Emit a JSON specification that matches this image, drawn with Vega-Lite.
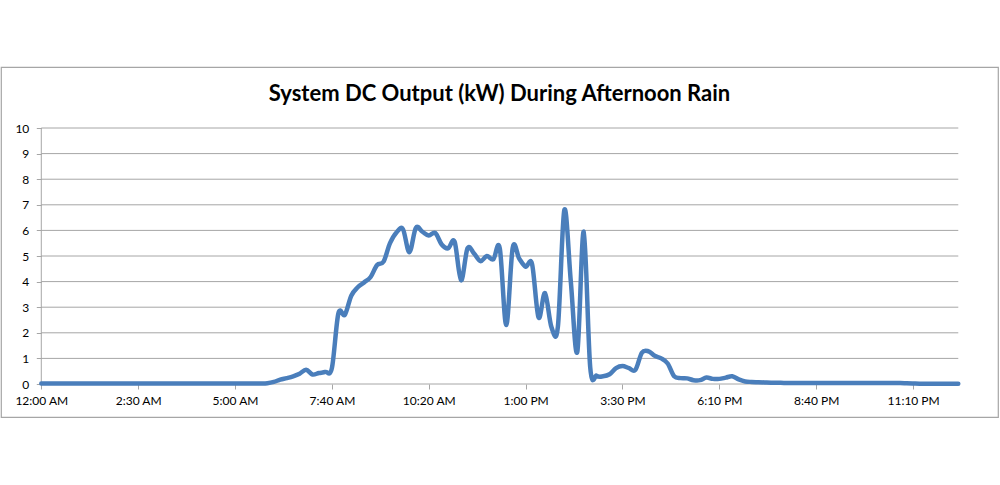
{
  "$schema": "https://vega.github.io/schema/vega-lite/v6.json",
  "width": 997,
  "height": 350,
  "autosize": {"type": "none"},
  "padding": {"left": 1, "top": 67, "right": 2, "bottom": 68},
  "background": "white",
  "config": {
    "font": "Lato",
    "view": {"stroke": "#a6a6a6", "strokeWidth": 1.2}
  },
  "title": {
    "text": "System DC Output (kW) During Afternoon Rain",
    "anchor": "middle",
    "offset": -39,
    "font": "Lato",
    "fontSize": 22,
    "fontWeight": "bold",
    "color": "#000000"
  },
  "datasets": {
    "output": [
      {"i": 0, "kw": 0.02}, {"i": 1, "kw": 0.02}, {"i": 2, "kw": 0.02}, {"i": 3, "kw": 0.02}, {"i": 4, "kw": 0.02},
      {"i": 5, "kw": 0.02}, {"i": 6, "kw": 0.02}, {"i": 7, "kw": 0.02}, {"i": 8, "kw": 0.02}, {"i": 9, "kw": 0.02},
      {"i": 10, "kw": 0.02}, {"i": 11, "kw": 0.02}, {"i": 12, "kw": 0.02}, {"i": 13, "kw": 0.02}, {"i": 14, "kw": 0.02},
      {"i": 15, "kw": 0.02}, {"i": 16, "kw": 0.02}, {"i": 17, "kw": 0.02}, {"i": 18, "kw": 0.02}, {"i": 19, "kw": 0.02},
      {"i": 20, "kw": 0.02}, {"i": 21, "kw": 0.02}, {"i": 22, "kw": 0.02}, {"i": 23, "kw": 0.02}, {"i": 24, "kw": 0.02},
      {"i": 25, "kw": 0.02}, {"i": 26, "kw": 0.02}, {"i": 27, "kw": 0.02}, {"i": 28, "kw": 0.02}, {"i": 29, "kw": 0.02},
      {"i": 30, "kw": 0.02}, {"i": 31, "kw": 0.02}, {"i": 32, "kw": 0.02}, {"i": 33, "kw": 0.02}, {"i": 34, "kw": 0.02},
      {"i": 35, "kw": 0.03}, {"i": 36, "kw": 0.08}, {"i": 37, "kw": 0.17}, {"i": 38, "kw": 0.23}, {"i": 39, "kw": 0.3},
      {"i": 40, "kw": 0.4}, {"i": 41, "kw": 0.56}, {"i": 42, "kw": 0.37}, {"i": 43, "kw": 0.43}, {"i": 44, "kw": 0.47},
      {"i": 45, "kw": 0.62}, {"i": 46, "kw": 2.75}, {"i": 47, "kw": 2.7}, {"i": 48, "kw": 3.45}, {"i": 49, "kw": 3.78},
      {"i": 50, "kw": 3.97}, {"i": 51, "kw": 4.18}, {"i": 52, "kw": 4.65}, {"i": 53, "kw": 4.78}, {"i": 54, "kw": 5.5},
      {"i": 55, "kw": 5.92}, {"i": 56, "kw": 6.05}, {"i": 57, "kw": 5.15}, {"i": 58, "kw": 6.1}, {"i": 59, "kw": 5.95},
      {"i": 60, "kw": 5.8}, {"i": 61, "kw": 5.9}, {"i": 62, "kw": 5.45}, {"i": 63, "kw": 5.3}, {"i": 64, "kw": 5.56},
      {"i": 65, "kw": 4.05}, {"i": 66, "kw": 5.3}, {"i": 67, "kw": 5.1}, {"i": 68, "kw": 4.8}, {"i": 69, "kw": 5.0},
      {"i": 70, "kw": 4.87}, {"i": 71, "kw": 5.3}, {"i": 72, "kw": 2.3}, {"i": 73, "kw": 5.32}, {"i": 74, "kw": 4.9},
      {"i": 75, "kw": 4.58}, {"i": 76, "kw": 4.68}, {"i": 77, "kw": 2.6}, {"i": 78, "kw": 3.55}, {"i": 79, "kw": 2.22},
      {"i": 80, "kw": 2.25}, {"i": 81, "kw": 6.8}, {"i": 82, "kw": 4.0}, {"i": 83, "kw": 1.25}, {"i": 84, "kw": 5.95},
      {"i": 85, "kw": 0.66}, {"i": 86, "kw": 0.32}, {"i": 87, "kw": 0.3}, {"i": 88, "kw": 0.38}, {"i": 89, "kw": 0.62},
      {"i": 90, "kw": 0.7}, {"i": 91, "kw": 0.62}, {"i": 92, "kw": 0.55}, {"i": 93, "kw": 1.22}, {"i": 94, "kw": 1.28},
      {"i": 95, "kw": 1.1}, {"i": 96, "kw": 1.0}, {"i": 97, "kw": 0.8}, {"i": 98, "kw": 0.3}, {"i": 99, "kw": 0.23},
      {"i": 100, "kw": 0.22}, {"i": 101, "kw": 0.15}, {"i": 102, "kw": 0.15}, {"i": 103, "kw": 0.25}, {"i": 104, "kw": 0.2},
      {"i": 105, "kw": 0.2}, {"i": 106, "kw": 0.25}, {"i": 107, "kw": 0.3}, {"i": 108, "kw": 0.18}, {"i": 109, "kw": 0.1},
      {"i": 110, "kw": 0.08}, {"i": 111, "kw": 0.07}, {"i": 112, "kw": 0.06}, {"i": 113, "kw": 0.05}, {"i": 114, "kw": 0.05},
      {"i": 115, "kw": 0.04}, {"i": 116, "kw": 0.04}, {"i": 117, "kw": 0.04}, {"i": 118, "kw": 0.04}, {"i": 119, "kw": 0.04},
      {"i": 120, "kw": 0.04}, {"i": 121, "kw": 0.04}, {"i": 122, "kw": 0.04}, {"i": 123, "kw": 0.04}, {"i": 124, "kw": 0.04},
      {"i": 125, "kw": 0.04}, {"i": 126, "kw": 0.04}, {"i": 127, "kw": 0.04}, {"i": 128, "kw": 0.04}, {"i": 129, "kw": 0.04},
      {"i": 130, "kw": 0.04}, {"i": 131, "kw": 0.04}, {"i": 132, "kw": 0.04}, {"i": 133, "kw": 0.04}, {"i": 134, "kw": 0.03},
      {"i": 135, "kw": 0.02}, {"i": 136, "kw": 0.01}, {"i": 137, "kw": 0.01}, {"i": 138, "kw": 0.01}, {"i": 139, "kw": 0.01},
      {"i": 140, "kw": 0.01}, {"i": 141, "kw": 0.01}, {"i": 142, "kw": 0.01}
    ],
    "grid": [
      {"level": 0}, {"level": 1}, {"level": 2}, {"level": 3}, {"level": 4}, {"level": 5},
      {"level": 6}, {"level": 7}, {"level": 8}, {"level": 9}, {"level": 10}
    ]
  },
  "resolve": {"axis": {"x": "independent", "y": "independent"}},
  "layer": [
    {
      "data": {"name": "grid"},
      "mark": {"type": "rule", "color": "#a6a6a6", "strokeWidth": 1},
      "encoding": {
        "y": {"field": "level", "type": "quantitative", "scale": {"domain": [-1.289, 12.383], "nice": false, "zero": false}, "axis": null},
        "x": {"datum": 0, "type": "quantitative", "scale": {"domain": [-6.24, 148.15], "nice": false, "zero": false}, "axis": null},
        "x2": {"datum": 142}
      }
    },
    {
      "data": {"values": [{}]},
      "mark": {"type": "rule", "color": "#a6a6a6", "strokeWidth": 1},
      "encoding": {
        "x": {"datum": 0, "type": "quantitative", "axis": null},
        "y": {"datum": 0, "type": "quantitative", "axis": null},
        "y2": {"datum": 10}
      }
    },
    {
      "data": {"name": "output"},
      "mark": {"type": "line", "color": "#4a7ebb", "strokeWidth": 4.5, "interpolate": "cardinal", "strokeCap": "round", "strokeJoin": "round"},
      "encoding": {
        "x": {
          "field": "i",
          "type": "quantitative",
          "scale": {"domain": [-6.24, 148.15], "nice": false, "zero": false},
          "axis": {
            "title": null,
            "offset": -33,
            "domain": false,
            "grid": false,
            "values": [0, 15, 30, 45, 60, 75, 90, 105, 120, 135],
            "labelExpr": "['12:00 AM','2:30 AM','5:00 AM','7:40 AM','10:20 AM','1:00 PM','3:30 PM','6:10 PM','8:40 PM','11:10 PM'][datum.value / 15]",
            "tickColor": "#a6a6a6",
            "tickSize": 5,
            "labelPadding": 6,
            "labelFont": "Lato",
            "labelFontSize": 12,
            "labelColor": "#000000",
            "labelFlush": false,
            "labelOverlap": false
          }
        },
        "y": {
          "field": "kw",
          "type": "quantitative",
          "scale": {"domain": [-1.289, 12.383], "nice": false, "zero": false},
          "axis": {
            "title": null,
            "offset": -40.3,
            "domain": false,
            "grid": false,
            "values": [0, 1, 2, 3, 4, 5, 6, 7, 8, 9, 10],
            "tickColor": "#a6a6a6",
            "tickSize": 5,
            "labelPadding": 7.5,
            "labelFont": "Lato",
            "labelFontSize": 12,
            "labelColor": "#000000",
            "labelFlush": false,
            "labelOverlap": false
          }
        }
      }
    }
  ]
}
